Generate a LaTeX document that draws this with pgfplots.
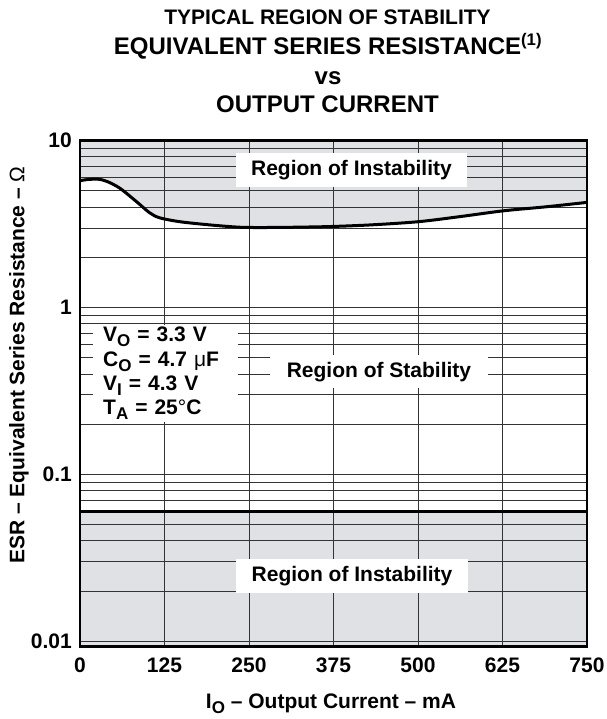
\documentclass[border=0pt]{standalone}
\usepackage{pgfplots}
\pgfplotsset{compat=1.18}
\usepackage{fontspec}
\setmainfont{Liberation Sans}
\definecolor{instab}{RGB}{224,225,228}
\newcommand{\sub}[1]{\raisebox{-5pt}{\fontsize{17}{17}\selectfont #1}}
\newcommand{\lbl}{\fontsize{21}{21}\selectfont\bfseries}

\begin{document}
\begin{tikzpicture}
\begin{axis}[
  set layers,
  scale only axis, width=507pt, height=506pt,
  at={(0pt,0pt)}, anchor=south west,
  xmin=0, xmax=750,
  ymode=log, ymin=0.0093, ymax=10,
  xtick={0,125,250,375,500,625,750},
  xticklabels={0,125,250,375,500,625,750},
  ytick={0.01,0.1,1,10},
  yticklabels={0.01,0.1,1,10},
  minor ytick={0.02,0.03,0.04,0.05,0.06,0.07,0.08,0.09,0.2,0.3,0.4,0.5,0.6,0.7,0.8,0.9,2,3,4,5,6,7,8,9},
  grid=both,
  major grid style={black!80, line width=0.9pt},
  minor grid style={black!80, line width=0.9pt},
  major tick length=0pt, minor tick length=0pt,
  axis line style={line width=2.5pt},
  tick label style={font=\lbl},
  xticklabel style={anchor=base, yshift=-26.3pt},
  yticklabel style={anchor=east, inner sep=0pt, xshift=-8pt},
]
% gray regions of instability
\addplot[fill=instab, draw=none, on layer=axis background] coordinates {
  (0,10) (0,5.75) (10,5.85) (27,5.88) (40,5.7) (59,5.19) (84,4.30) (103,3.70)
  (118,3.45) (148,3.27) (192,3.13) (237,3.03) (280,3.02) (315,3.03) (370,3.06)
  (430,3.13) (500,3.27) (560,3.50) (626,3.80) (690,4.02) (750,4.27) (750,10)
} -- cycle;
\addplot[fill=instab, draw=none, on layer=axis background] coordinates {
  (0,0.0093) (0,0.06) (750,0.06) (750,0.0093)
} -- cycle;

% stability boundaries
\addplot[black, line width=3pt, smooth, tension=0.5] coordinates {
  (0,5.75) (10,5.85) (27,5.88) (40,5.7) (59,5.19) (84,4.30) (103,3.70)
  (118,3.45) (148,3.27) (192,3.13) (237,3.03) (280,3.02) (315,3.03) (370,3.06)
  (430,3.13) (500,3.27) (560,3.50) (626,3.80) (690,4.02) (750,4.27)
};
\addplot[black, line width=3.5pt] coordinates {(0,0.06) (750,0.06)};

\node[fill=white, inner xsep=15.5pt, inner ysep=7pt, text height=15.5pt, text depth=4.5pt, font=\lbl]
  at (axis cs:401.6,6.675) {Region of Instability};
\node[fill=white, inner xsep=15.5pt, inner ysep=7pt, text height=15.5pt, text depth=4.5pt, font=\lbl]
  at (axis cs:402.4,0.0245) {Region of Instability};
\node[fill=white, inner xsep=17pt, inner ysep=6.5pt, text height=15.5pt, text depth=4.5pt, font=\lbl]
  at (axis cs:442.3,0.414) {Region of Stability};
\node[fill=white, anchor=north west, align=left, inner xsep=10pt, inner ysep=2pt, text width=125pt,
  font=\fontsize{21}{24.3}\selectfont\bfseries]
  at (axis cs:19.2,0.787) {V\sub{O} = 3.3 V\\C\sub{O} = 4.7 {\mdseries μ}F\\V\sub{I} = 4.3 V\\T\sub{A} = 25{\mdseries °}C};
\end{axis}

% titles and axis labels
\node[anchor=base, font=\fontsize{21}{21}\selectfont\bfseries] at (247.5pt,621.7pt) {TYPICAL REGION OF STABILITY};
\node[anchor=base, font=\fontsize{24}{24}\selectfont\bfseries] at (248pt,591.7pt) {EQUIVALENT SERIES RESISTANCE\textsuperscript{(1)}};
\node[anchor=base, font=\fontsize{24}{24}\selectfont\bfseries] at (248pt,561.7pt) {vs};
\node[anchor=base, font=\fontsize{24}{24}\selectfont\bfseries] at (247.5pt,533.7pt) {OUTPUT CURRENT};
\node[anchor=base, font=\lbl] at (251pt,-61.3pt) {I\sub{O} – Output Current – mA};
\node[rotate=90, font=\lbl] at (-61pt,281.7pt) {ESR – Equivalent Series Resistance – {\mdseries Ω}};

\pgfresetboundingbox
\useasboundingbox (-80pt,-72.3pt) rectangle (526pt,646.7pt);
\end{tikzpicture}
\end{document}
